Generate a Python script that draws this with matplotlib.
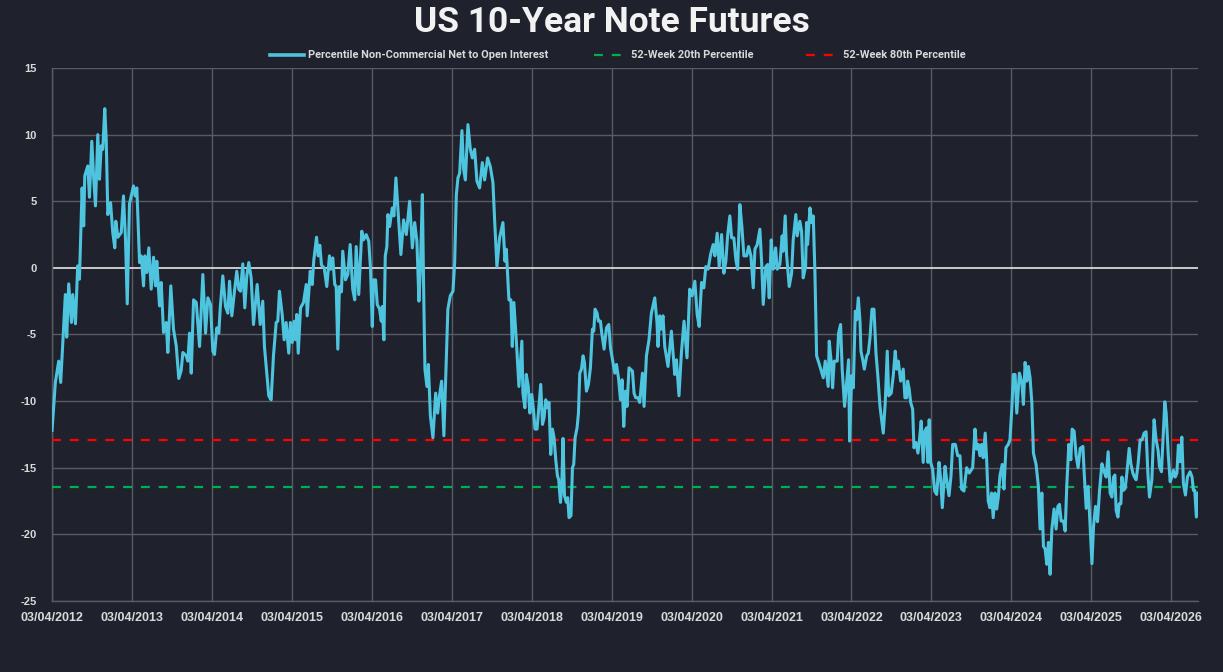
import numpy as np
import pandas as pd
import matplotlib
matplotlib.use('Agg')
import matplotlib.pyplot as plt
import matplotlib.dates as mdates
from matplotlib.lines import Line2D

plt.rcParams['axes.unicode_minus'] = False
plt.rcParams['font.family'] = ['Liberation Sans', 'DejaVu Sans']

# ── Data (dates as decimal years) ────────────────────────────────────────────
years = [
    2012.255, 2012.296, 2012.338, 2012.363, 2012.421, 2012.438, 2012.463, 2012.497, 2012.513, 2012.547,
    2012.575, 2012.597, 2012.630, 2012.650, 2012.663, 2012.701, 2012.722, 2012.751, 2012.772, 2012.797,
    2012.826, 2012.847, 2012.868, 2012.888, 2012.913, 2012.931, 2012.951, 2012.985, 2013.013, 2013.038,
    2013.051, 2013.076, 2013.119, 2013.147, 2013.172, 2013.194, 2013.222, 2013.272, 2013.294, 2013.314,
    2013.348, 2013.369, 2013.398, 2013.414, 2013.439, 2013.464, 2013.494, 2013.523, 2013.548, 2013.564,
    2013.598, 2013.619, 2013.648, 2013.682, 2013.702, 2013.739, 2013.773, 2013.807, 2013.839, 2013.869,
    2013.890, 2013.932, 2013.952,
    2013.974, 2013.995, 2014.024, 2014.058, 2014.099, 2014.140, 2014.174, 2014.203, 2014.236, 2014.265,
    2014.286, 2014.315, 2014.340, 2014.358, 2014.390, 2014.424, 2014.453, 2014.474, 2014.503, 2014.536,
    2014.565, 2014.590, 2014.611, 2014.640, 2014.665, 2014.690, 2014.715, 2014.745, 2014.774, 2014.820,
    2014.858, 2014.890, 2014.911, 2014.940, 2014.965, 2014.995, 2015.024, 2015.058, 2015.078, 2015.099,
    2015.133, 2015.158, 2015.183, 2015.215, 2015.236, 2015.259, 2015.284, 2015.300, 2015.316, 2015.334,
    2015.363, 2015.400, 2015.434, 2015.446, 2015.484, 2015.509, 2015.529, 2015.563, 2015.584, 2015.604,
    2015.625, 2015.659, 2015.691, 2015.725, 2015.741, 2015.766, 2015.791, 2015.809, 2015.829, 2015.850,
    2015.875,
    2015.891, 2015.925, 2015.954, 2015.984, 2016.016, 2016.041, 2016.059, 2016.091, 2016.129, 2016.150,
    2016.184, 2016.216, 2016.238, 2016.260, 2016.276, 2016.301, 2016.322, 2016.351, 2016.372, 2016.385,
    2016.405, 2016.422, 2016.442, 2016.455, 2016.476, 2016.510, 2016.530, 2016.555, 2016.580, 2016.617,
    2016.651, 2016.685, 2016.726, 2016.760, 2016.789, 2016.817, 2016.842, 2016.860, 2016.885, 2016.901,
    2016.917, 2016.942, 2016.960, 2016.985, 2017.017, 2017.051, 2017.076, 2017.101, 2017.126, 2017.154,
    2017.176, 2017.204, 2017.234, 2017.268, 2017.289, 2017.310, 2017.330, 2017.351, 2017.380, 2017.401,
    2017.423, 2017.455, 2017.485, 2017.510, 2017.539, 2017.568, 2017.601, 2017.635, 2017.664, 2017.701,
    2017.735, 2017.768, 2017.789,
    2017.818, 2017.851, 2017.893, 2017.918, 2017.935, 2017.968, 2017.993, 2018.010, 2018.030, 2018.060,
    2018.093, 2018.130, 2018.143, 2018.168, 2018.185, 2018.210, 2018.230, 2018.254, 2018.275, 2018.295,
    2018.320, 2018.345, 2018.366, 2018.388, 2018.408, 2018.429, 2018.450, 2018.470, 2018.491, 2018.513,
    2018.533, 2018.554, 2018.575, 2018.591, 2018.613, 2018.629, 2018.645, 2018.663, 2018.688, 2018.704,
    2018.720, 2018.745, 2018.763, 2018.779, 2018.796, 2018.821, 2018.838, 2018.855, 2018.876, 2018.896,
    2018.913, 2018.938, 2018.963, 2018.988, 2019.013, 2019.030, 2019.046, 2019.071, 2019.088, 2019.113,
    2019.130, 2019.159, 2019.189, 2019.218, 2019.239, 2019.271, 2019.293, 2019.314, 2019.339, 2019.364,
    2019.384, 2019.405, 2019.426, 2019.446, 2019.471, 2019.514, 2019.534, 2019.555, 2019.584,
    2019.605, 2019.639, 2019.659, 2019.689, 2019.721, 2019.751, 2019.793, 2019.821, 2019.834, 2019.855,
    2019.876, 2019.896, 2019.918, 2019.959, 2020.001, 2020.043, 2020.064, 2020.096, 2020.126, 2020.159,
    2020.196, 2020.230, 2020.260, 2020.294, 2020.323, 2020.348, 2020.378, 2020.406, 2020.431, 2020.460,
    2020.490, 2020.523, 2020.544, 2020.573, 2020.598, 2020.628, 2020.656, 2020.681, 2020.703, 2020.731,
    2020.753, 2020.781, 2020.806, 2020.828, 2020.856, 2020.881, 2020.906, 2020.940, 2020.965, 2020.994,
    2021.023, 2021.044, 2021.073, 2021.106, 2021.128, 2021.148, 2021.181, 2021.203, 2021.223, 2021.248,
    2021.273, 2021.303, 2021.323, 2021.356, 2021.385, 2021.398, 2021.423, 2021.440, 2021.473, 2021.503,
    2021.523, 2021.556, 2021.573, 2021.606, 2021.628, 2021.648, 2021.678, 2021.690, 2021.703,
    2021.733, 2021.754, 2021.774, 2021.795, 2021.816, 2021.858, 2021.899, 2021.924, 2021.961, 2021.974,
    2021.999, 2022.016, 2022.036, 2022.074, 2022.091, 2022.116, 2022.136, 2022.166, 2022.191, 2022.216,
    2022.229, 2022.255, 2022.275, 2022.300, 2022.317, 2022.338, 2022.359, 2022.371, 2022.393, 2022.413,
    2022.443, 2022.463, 2022.484, 2022.509, 2022.534, 2022.559, 2022.584, 2022.609, 2022.630, 2022.650,
    2022.675, 2022.700, 2022.718, 2022.750, 2022.775, 2022.800, 2022.818, 2022.838, 2022.868, 2022.900,
    2022.921, 2022.943, 2022.955, 2022.975, 2022.993, 2023.018, 2023.034, 2023.059, 2023.084, 2023.100,
    2023.125, 2023.150, 2023.171, 2023.193, 2023.209, 2023.225, 2023.243, 2023.268, 2023.294, 2023.319,
    2023.348, 2023.369, 2023.389, 2023.423, 2023.444, 2023.473, 2023.498, 2023.519, 2023.552, 2023.582,
    2023.610, 2023.631, 2023.660, 2023.694, 2023.726, 2023.769, 2023.798, 2023.819, 2023.839, 2023.860,
    2023.881, 2023.901, 2023.926, 2023.944, 2023.964, 2023.985, 2024.006, 2024.026, 2024.048, 2024.069,
    2024.089, 2024.110, 2024.139, 2024.160, 2024.185, 2024.214, 2024.235, 2024.258, 2024.278, 2024.299,
    2024.320, 2024.353, 2024.383, 2024.403, 2024.424, 2024.445, 2024.465, 2024.486, 2024.508, 2024.528,
    2024.561, 2024.590, 2024.611, 2024.633, 2024.653, 2024.674, 2024.695, 2024.715, 2024.736, 2024.758,
    2024.786, 2024.811, 2024.833, 2024.853, 2024.874, 2024.903, 2024.924, 2024.945, 2024.970, 2024.995,
    2025.011, 2025.036, 2025.061, 2025.086,
    2025.112, 2025.146, 2025.162, 2025.187, 2025.212, 2025.237, 2025.259, 2025.279, 2025.304, 2025.329,
    2025.354, 2025.384, 2025.412, 2025.437, 2025.462, 2025.487, 2025.509, 2025.529, 2025.546, 2025.562,
    2025.584, 2025.600, 2025.621, 2025.634, 2025.654, 2025.675, 2025.696, 2025.725, 2025.746, 2025.771,
    2025.791, 2025.812, 2025.837, 2025.862, 2025.887, 2025.912, 2025.937, 2025.959, 2025.979, 2026.009,
    2026.037, 2026.062, 2026.087, 2026.104, 2026.129, 2026.154, 2026.171, 2026.188, 2026.213, 2026.238,
    2026.259, 2026.279, 2026.301, 2026.322, 2026.341, 2026.363, 2026.384, 2026.404, 2026.429, 2026.454,
    2026.487, 2026.512, 2026.529, 2026.546, 2026.566, 2026.587,
]

net_pct = [
    -12.2, -8.6, -7.0, -8.6, -2.0, -5.2, -1.2, -4.1, -2.0, -4.2,
    0.15, -0.85, 6.0, 3.15, 6.9, 7.65, 5.3, 9.5, 7.0, 4.65,
    10.0, 6.65, 9.15, 8.9, 11.95, 9.65, 4.0, 4.9, 2.65, 1.5,
    3.5, 2.3, 2.65, 5.4, 2.15, -2.7, 4.8, 6.15, 5.4, 6.0,
    0.4, 0.9, -1.35, 0.9, -0.35, 1.5, -1.6, 0.8, -1.35, 0.5,
    -2.85, -1.1, -4.85, -4.1, -6.35, -1.35, -4.6, -5.85, -8.3, -7.7,
    -6.35, -6.6, -7.0,
    -4.9, -7.9, -2.4, -2.6, -5.9, -0.5, -4.9, -2.25, -2.75, -6.25,
    -6.5, -4.5, -4.9, -3.0, -0.6, -2.9, -3.4, -1.0, -3.6, -1.75,
    -0.25, -1.6, -1.75, 0.3, -3.0, -0.6, 0.4, -0.75, -4.25, -1.25,
    -4.25, -2.5, -5.9, -7.9, -9.6, -9.9, -6.6, -4.1, -4.0, -1.75,
    -3.5, -5.4, -4.1, -6.4, -4.1, -5.6, -4.0, -5.4, -3.5, -6.4,
    -3.0, -2.6, -1.25, -3.6, -0.25, -1.25, 0.6, 2.3, 0.9, 1.7,
    0.2, 0.0, -1.4, 0.9, -0.1, 0.75, -1.25, -1.4, -6.1, -1.4,
    -1.8,
    1.25, -0.9, -0.5, 1.75, -1.6, -2.4, 1.6, -2.0, 2.75, 2.1,
    2.5, 2.0, -0.1, -4.4, -0.9, -0.9, -2.75, -3.1, -4.0, -2.9,
    -5.4, 0.9, 1.6, 4.0, 3.1, 4.5, 3.9, 6.75, 4.4, 1.0,
    3.6, 2.5, 5.0, 1.5, 3.4, 2.0, -2.5, -0.1, 5.5, -1.6,
    -7.6, -8.9, -7.25, -11.1, -12.75, -9.4, -10.9, -9.5, -8.5, -12.6,
    -8.4, -3.1, -2.1, -1.75, 0.4, 5.5, 6.75, 7.1, 10.3, 7.4,
    6.6, 10.75, 8.9, 8.25, 8.9, 6.5, 6.0, 7.9, 6.6, 8.25,
    7.6, 6.4, 3.6,
    0.1, 2.25, 3.4, 0.5, 1.4, -2.4, -2.4, -5.9, -2.6, -5.4,
    -8.9, -5.5, -9.4, -10.5, -8.0, -8.9, -10.9, -9.5, -10.6, -12.1,
    -12.1, -10.25, -8.75, -11.75, -11.25, -9.9, -10.5, -10.1, -14.0, -12.1,
    -12.75, -14.4, -15.6, -15.9, -17.6, -16.4, -12.8, -17.1, -17.6, -17.25,
    -18.75, -18.6, -15.0, -14.75, -12.75, -12.0, -10.9, -7.9, -7.6, -6.6,
    -7.1, -9.25, -8.75, -7.5, -4.6, -4.75, -3.1, -3.4, -4.0, -4.0,
    -4.9, -6.1, -4.5, -4.25, -6.0, -7.1, -7.9, -7.25, -8.25, -9.9,
    -8.4, -11.9, -9.25, -10.4, -7.5, -7.75, -9.4, -9.75, -9.75,
    -10.1, -7.9, -10.4, -6.6, -5.4, -3.4, -2.25, -4.1, -5.9, -3.6,
    -4.6, -3.6, -5.9, -7.4, -4.75, -8.0, -6.9, -9.6, -6.4, -4.0,
    -6.75, -1.6, -2.1, -1.0, -3.5, -4.4, -1.1, -1.5, 0.1, -0.1,
    1.0, 1.75, 0.9, 2.6, 0.1, 2.5, -0.4, 0.5, 2.4, 3.9,
    2.25, 2.25, 0.6, -0.1, 4.75, 3.1, 0.9, 0.9, 1.6, 0.9,
    -1.5, 1.4, 1.75, 2.9, 0.4, -2.75, 0.1, 0.25, -2.25, 2.1,
    -0.1, 1.5, -0.1, 0.25, 2.4, 1.25, 3.9, 1.0, -1.4, -0.4,
    2.1, 4.0, 2.4, 3.5, 2.75, -0.75, 0.1, 3.4, 1.75,
    4.5, 3.4, 3.9, -0.4, -6.6, -7.4, -8.25, -7.0, -8.9, -5.5,
    -7.1, -9.0, -7.0, -7.0, -4.9, -4.25, -7.6, -10.4, -8.6, -6.9,
    -13.0, -8.1, -9.0, -3.25, -3.9, -2.25, -4.0, -6.25, -6.9, -7.6,
    -6.6, -6.4, -5.25, -3.1, -3.1, -6.4, -8.25, -10.4, -11.4, -12.4,
    -10.1, -6.25, -9.6, -9.4, -8.1, -6.25, -7.6, -7.0, -8.5, -7.6,
    -9.75, -9.75, -8.5, -9.1, -10.1, -10.6, -13.5, -13.1, -13.9, -13.1,
    -11.5, -14.6, -12.25, -12.0, -14.6, -11.4, -14.6, -15.1, -16.75, -17.0,
    -14.6, -15.9, -18.0, -14.9, -15.9, -17.1, -15.6, -13.25, -13.25, -14.1,
    -14.1, -16.6, -16.75, -15.0, -15.4, -15.0, -12.1, -13.6, -13.25, -14.1,
    -13.25, -14.25, -12.4, -14.4, -17.5, -18.0, -16.9, -18.75, -16.9, -18.1,
    -17.25, -15.6, -14.75, -16.6, -13.5, -13.25, -12.9, -10.6, -8.0, -8.0,
    -10.9, -7.9, -8.6, -10.25, -7.1, -8.5, -7.4, -8.25, -10.1, -13.9,
    -14.75, -16.4, -19.6, -16.9, -20.9, -21.1, -22.25, -20.6, -23.0, -19.6,
    -18.1, -19.6, -17.9, -17.75, -19.0, -19.0, -19.75, -16.25, -13.25, -14.4,
    -12.1, -12.25, -14.1, -15.0,
    -13.55, -13.4, -15.4, -18.05, -16.4, -19.4, -22.2, -19.4, -17.9, -19.05,
    -16.7, -14.7, -15.3, -15.7, -13.8, -16.9, -17.2, -15.7, -15.55, -18.2,
    -18.7, -17.7, -17.7, -15.7, -16.7, -16.55, -15.4, -13.55, -14.7, -15.4,
    -15.7, -15.9, -14.7, -12.9, -12.9, -12.4, -12.3, -15.4, -17.2, -15.9,
    -11.4, -12.9, -13.7, -14.9, -15.3, -12.2, -10.05, -10.9, -13.9, -16.05,
    -15.7, -15.2, -15.7, -15.4, -13.3, -14.55, -12.7, -16.2, -17.05, -15.7,
    -15.3, -15.7, -16.7, -16.7, -18.7, -16.9,
]

p20 = -16.45   # 52-week 20th percentile
p80 = -12.95   # 52-week 80th percentile
tick_years = list(range(2012, 2027))
series_names = ['Percentile Non-Commercial Net to Open Interest',
                '52-Week 20th Percentile',
                '52-Week 80th Percentile']

# ── Helpers ──────────────────────────────────────────────────────────────────
def dec_to_date(y):
    yr = int(y)
    start = pd.Timestamp(year=yr, month=1, day=1)
    end = pd.Timestamp(year=yr + 1, month=1, day=1)
    return start + (end - start) * (y - yr)

dates = [dec_to_date(y) for y in years]

BG = '#1f222d'
LINE = '#4ec4df'
GREEN = '#00b050'
RED = '#ff0000'
GRID = '#595b63'
TXT = '#d9d9d9'
DASH = (0, (4, 4))

# ── Figure ───────────────────────────────────────────────────────────────────
fig = plt.figure(figsize=(12.23, 6.72), dpi=100, facecolor=BG)
ax = fig.add_axes([0.0425, 0.1057, 0.9371, 0.7931], facecolor=BG)

ax.plot(dates, net_pct, color=LINE, lw=2.2, solid_joinstyle='round', zorder=4)
ax.axhline(p20, color=GREEN, ls=DASH, lw=1.6, zorder=3)
ax.axhline(p80, color=RED, ls=DASH, lw=1.6, zorder=3)

ax.set_xlim(dates[0], dates[-1])
ax.set_ylim(-25, 15)
ax.set_yticks(np.arange(-25, 16, 5))
ax.set_xticks([pd.Timestamp(year=y, month=4, day=3) for y in tick_years])
ax.xaxis.set_major_formatter(mdates.DateFormatter('%d/%m/%Y'))

for y in np.arange(-25, 16, 5):
    if y == 0:
        ax.axhline(0, color='#e6e6e6', lw=1.2, zorder=2)
    else:
        ax.axhline(y, color=GRID, lw=1.0, zorder=1)
ax.grid(axis='x', color=GRID, lw=1.0, zorder=1)

for s in ['top', 'right']:
    ax.spines[s].set_visible(False)
for s in ['left', 'bottom']:
    ax.spines[s].set_color(GRID)
    ax.spines[s].set_linewidth(1.0)

ax.tick_params(axis='both', length=0, colors=TXT)
ax.tick_params(axis='x', labelsize=9, pad=8)
ax.tick_params(axis='y', labelsize=8, pad=11)
for lab in ax.get_xticklabels() + ax.get_yticklabels():
    lab.set_fontweight('bold')

# title
fig.text(0.5, 1 - 22 / 672, 'US 10-Year Note Futures', ha='center', va='center',
         color='#f2f2f2', fontsize=25.5, fontweight='bold', family='Roboto')

# legend, placed entry by entry
W, H = 1223.0, 672.0
leg_y = 1 - 55 / H
handles = [(270, 304, LINE, '-', 2.6), (594, 627, GREEN, DASH, 1.6),
           (806, 839, RED, DASH, 1.6)]
for (x0, x1, col, ls, lw), name in zip(handles, series_names):
    fig.add_artist(Line2D([x0 / W, x1 / W], [leg_y, leg_y], color=col,
                          ls=ls, lw=lw, transform=fig.transFigure))
    fig.text((x1 + 4) / W, leg_y, name, ha='left', va='center',
             color=TXT, fontsize=7.9, fontweight='bold', family='Roboto')

fig.savefig('out.png', dpi=100, facecolor=BG)
